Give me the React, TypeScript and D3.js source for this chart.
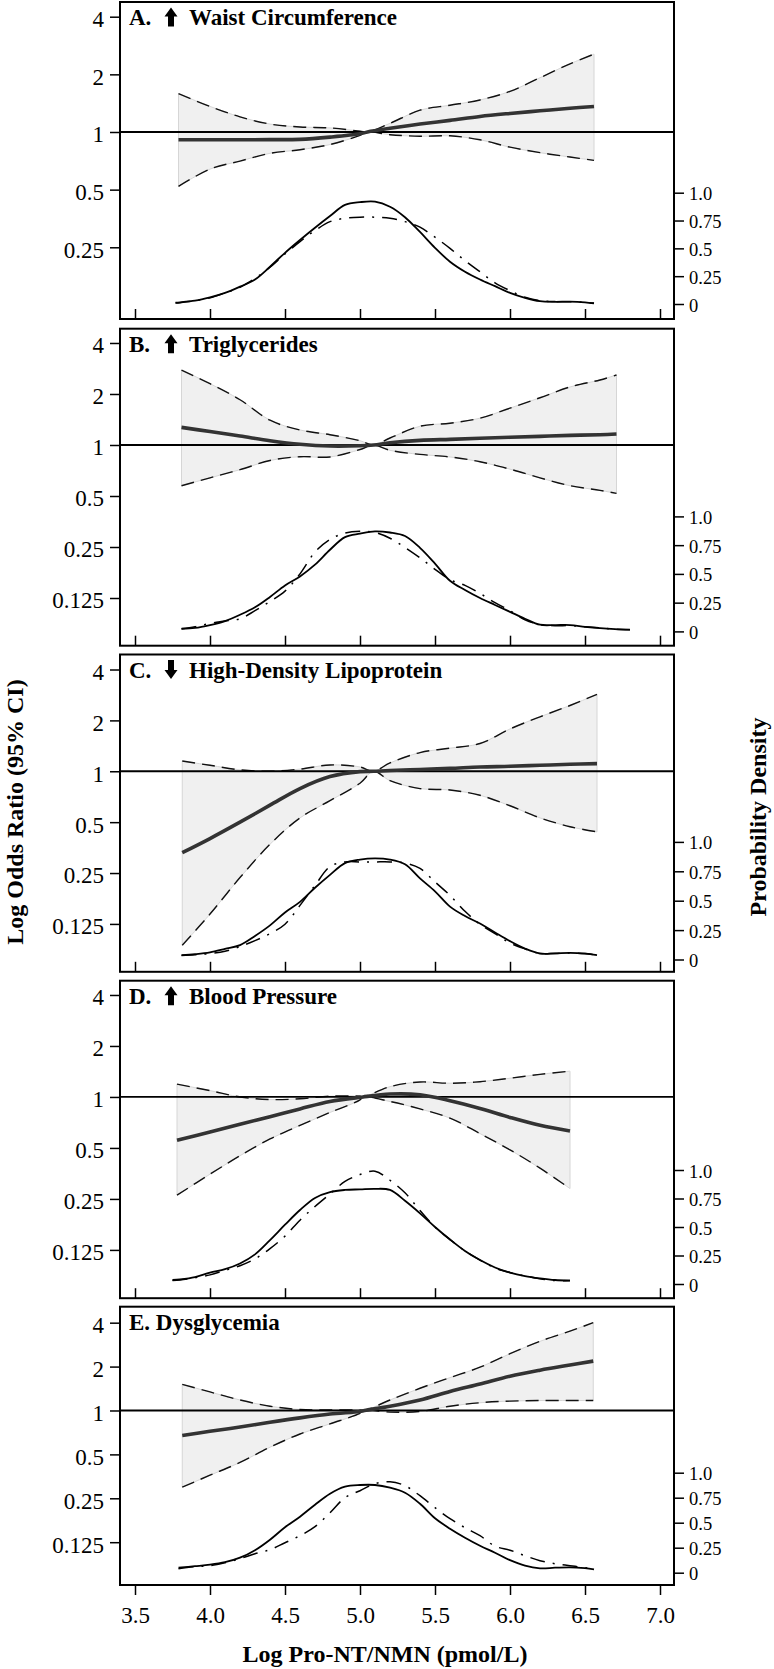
import { useEffect, useRef } from "react"
import * as d3 from "d3"

// ---- shared axes ----
const xTicks = [3.5, 4.0, 4.5, 5.0, 5.5, 6.0, 6.5, 7.0]
const orTicks = [4, 2, 1, 0.5, 0.25, 0.125]
const orTicksA = [4, 2, 1, 0.5, 0.25]
const densTicks = [0, 0.25, 0.5, 0.75, 1.0]
const densTickLabels = ["0", "0.25", "0.5", "0.75", "1.0"]

// ---- A. Waist circumference ----
const waistX = [3.79, 4.0, 4.2, 4.4, 4.6, 4.8, 5.0, 5.05, 5.2, 5.4, 5.6, 5.8, 6.0, 6.2, 6.4, 6.56]
const waistOR = [0.911, 0.911, 0.911, 0.912, 0.915, 0.94, 0.978, 1.0, 1.045, 1.1, 1.15, 1.206, 1.25, 1.29, 1.33, 1.36]
const waistLo = [0.52, 0.64, 0.705, 0.774, 0.808, 0.86, 0.96, 1.0, 0.968, 0.95, 0.955, 0.911, 0.833, 0.78, 0.74, 0.711]
const waistHi = [1.585, 1.36, 1.2, 1.1, 1.062, 1.05, 1.01, 1.0, 1.11, 1.3, 1.38, 1.47, 1.63, 1.92, 2.27, 2.55]
const waistDensX = [3.77, 3.8, 3.9, 4.0, 4.1, 4.2, 4.3, 4.4, 4.5, 4.6, 4.7, 4.8, 4.9, 5.0, 5.1, 5.2, 5.3, 5.4, 5.5, 5.6, 5.7, 5.8, 5.9, 6.0, 6.1, 6.2, 6.3, 6.4, 6.5, 6.56]
const waistDensSolid = [0.012, 0.015, 0.03, 0.06, 0.1, 0.156, 0.22, 0.335, 0.46, 0.575, 0.685, 0.79, 0.89, 0.915, 0.92, 0.874, 0.78, 0.647, 0.505, 0.38, 0.29, 0.22, 0.16, 0.1, 0.055, 0.025, 0.02, 0.022, 0.015, 0.006]
const waistDensDash = [0.01, 0.012, 0.03, 0.055, 0.1, 0.15, 0.23, 0.33, 0.45, 0.56, 0.66, 0.74, 0.77, 0.78, 0.78, 0.77, 0.74, 0.69, 0.6, 0.5, 0.39, 0.29, 0.19, 0.12, 0.06, 0.03, 0.02, 0.02, 0.015, 0.008]

// ---- B. Triglycerides ----
const trigX = [3.81, 4.0, 4.2, 4.4, 4.6, 4.8, 5.0, 5.09, 5.2, 5.4, 5.6, 5.8, 6.0, 6.2, 6.4, 6.6, 6.71]
const trigOR = [1.27, 1.2, 1.13, 1.06, 1.01, 0.986, 0.99, 1.0, 1.03, 1.065, 1.08, 1.095, 1.11, 1.125, 1.14, 1.15, 1.16]
const trigLo = [0.575, 0.64, 0.715, 0.81, 0.853, 0.85, 0.94, 1.0, 0.93, 0.88, 0.85, 0.797, 0.72, 0.64, 0.575, 0.54, 0.518]
const trigHi = [2.77, 2.3, 1.85, 1.4, 1.226, 1.15, 1.06, 1.0, 1.1, 1.29, 1.345, 1.44, 1.65, 1.9, 2.2, 2.42, 2.59]
const trigDensX = [3.81, 3.9, 4.0, 4.1, 4.2, 4.3, 4.4, 4.5, 4.6, 4.7, 4.8, 4.9, 5.0, 5.1, 5.2, 5.3, 5.4, 5.5, 5.6, 5.7, 5.8, 5.9, 6.0, 6.1, 6.2, 6.3, 6.4, 6.5, 6.6, 6.7, 6.8]
const trigDensSolid = [0.023, 0.03, 0.055, 0.09, 0.145, 0.21, 0.3, 0.4, 0.478, 0.58, 0.71, 0.82, 0.85, 0.87, 0.86, 0.83, 0.727, 0.59, 0.44, 0.36, 0.29, 0.23, 0.17, 0.11, 0.058, 0.055, 0.055, 0.04, 0.028, 0.02, 0.015]
const trigDensDash = [0.023, 0.04, 0.07, 0.09, 0.11, 0.18, 0.26, 0.35, 0.5, 0.69, 0.8, 0.855, 0.87, 0.86, 0.81, 0.73, 0.64, 0.54, 0.45, 0.4, 0.33, 0.25, 0.18, 0.1, 0.06, 0.05, 0.05, 0.04, 0.03, 0.02, 0.015]

// ---- C. High-density lipoprotein ----
const hdlX = [3.815, 4.0, 4.2, 4.4, 4.6, 4.8, 5.0, 5.09, 5.2, 5.4, 5.6, 5.8, 6.0, 6.2, 6.4, 6.58]
const hdlOR = [0.33, 0.4, 0.5, 0.63, 0.79, 0.93, 0.995, 1.0, 1.01, 1.025, 1.04, 1.06, 1.07, 1.085, 1.1, 1.11]
const hdlLo = [0.0935, 0.143, 0.235, 0.37, 0.53, 0.67, 0.85, 1.0, 0.88, 0.79, 0.775, 0.721, 0.625, 0.53, 0.47, 0.438]
const hdlHi = [1.15, 1.085, 1.02, 1.0, 1.03, 1.09, 1.06, 1.0, 1.12, 1.29, 1.37, 1.46, 1.78, 2.1, 2.45, 2.85]
const hdlDensX = [3.81, 3.9, 4.0, 4.1, 4.2, 4.3, 4.4, 4.5, 4.6, 4.7, 4.8, 4.9, 5.0, 5.1, 5.2, 5.3, 5.4, 5.5, 5.6, 5.7, 5.8, 5.9, 6.0, 6.1, 6.2, 6.3, 6.4, 6.5, 6.58]
const hdlDensSolid = [0.037, 0.045, 0.06, 0.09, 0.122, 0.2, 0.29, 0.4, 0.49, 0.61, 0.72, 0.82, 0.85, 0.86, 0.85, 0.81, 0.69, 0.58, 0.45, 0.37, 0.306, 0.23, 0.156, 0.093, 0.051, 0.052, 0.056, 0.05, 0.037]
const hdlDensDash = [0.035, 0.04, 0.05, 0.07, 0.11, 0.16, 0.22, 0.3, 0.46, 0.63, 0.79, 0.83, 0.83, 0.83, 0.83, 0.82, 0.774, 0.66, 0.545, 0.41, 0.3, 0.22, 0.14, 0.09, 0.051, 0.052, 0.056, 0.05, 0.037]

// ---- D. Blood pressure ----
const bpX = [3.78, 4.0, 4.2, 4.4, 4.6, 4.8, 5.0, 5.02, 5.2, 5.4, 5.6, 5.8, 6.0, 6.2, 6.4]
const bpOR = [0.555, 0.62, 0.69, 0.765, 0.85, 0.94, 0.995, 1.0, 1.04, 1.03, 0.95, 0.855, 0.757, 0.68, 0.63]
const bpLo = [0.263, 0.35, 0.45, 0.565, 0.68, 0.81, 0.96, 1.0, 0.94, 0.85, 0.75, 0.608, 0.487, 0.38, 0.288]
const bpHi = [1.19, 1.09, 1.0, 0.965, 0.975, 1.01, 1.01, 1.0, 1.15, 1.225, 1.205, 1.23, 1.29, 1.36, 1.42]
const bpDensX = [3.75, 3.8, 3.9, 4.0, 4.1, 4.2, 4.3, 4.4, 4.5, 4.6, 4.7, 4.8, 4.9, 5.0, 5.1, 5.2, 5.3, 5.4, 5.5, 5.6, 5.7, 5.8, 5.9, 6.0, 6.1, 6.2, 6.3, 6.4]
const bpDensSolid = [0.035, 0.04, 0.06, 0.1, 0.13, 0.18, 0.26, 0.385, 0.52, 0.649, 0.755, 0.806, 0.825, 0.83, 0.835, 0.825, 0.73, 0.62, 0.5, 0.39, 0.29, 0.21, 0.145, 0.1, 0.07, 0.05, 0.035, 0.029]
const bpDensDash = [0.03, 0.035, 0.055, 0.08, 0.12, 0.16, 0.22, 0.31, 0.42, 0.56, 0.68, 0.79, 0.9, 0.96, 0.99, 0.91, 0.8, 0.645, 0.5, 0.39, 0.29, 0.21, 0.14, 0.1, 0.07, 0.045, 0.03, 0.03]

// ---- E. Dysglycemia ----
const glyX = [3.815, 4.0, 4.2, 4.4, 4.6, 4.8, 5.0, 5.03, 5.2, 5.4, 5.6, 5.8, 6.0, 6.2, 6.4, 6.555]
const glyOR = [0.674, 0.72, 0.77, 0.83, 0.89, 0.945, 0.985, 1.0, 1.07, 1.18, 1.35, 1.52, 1.72, 1.89, 2.05, 2.18]
const glyLo = [0.298, 0.36, 0.44, 0.56, 0.69, 0.81, 0.955, 1.0, 0.975, 0.985, 1.07, 1.13, 1.16, 1.17, 1.17, 1.17]
const glyHi = [1.51, 1.34, 1.18, 1.07, 1.015, 1.01, 1.005, 1.0, 1.18, 1.42, 1.68, 1.98, 2.45, 2.98, 3.5, 4.0]
const glyDensX = [3.79, 3.9, 4.0, 4.1, 4.2, 4.3, 4.4, 4.5, 4.6, 4.7, 4.8, 4.9, 5.0, 5.1, 5.2, 5.3, 5.4, 5.5, 5.6, 5.7, 5.8, 5.9, 6.0, 6.1, 6.2, 6.3, 6.4, 6.5, 6.56]
const glyDensSolid = [0.05, 0.065, 0.08, 0.105, 0.15, 0.225, 0.33, 0.455, 0.56, 0.68, 0.79, 0.86, 0.877, 0.877, 0.85, 0.8, 0.69, 0.545, 0.44, 0.35, 0.27, 0.2, 0.125, 0.07, 0.044, 0.05, 0.054, 0.045, 0.034]
const glyDensDash = [0.04, 0.06, 0.07, 0.1, 0.14, 0.19, 0.23, 0.3, 0.37, 0.46, 0.6, 0.75, 0.82, 0.89, 0.91, 0.87, 0.77, 0.65, 0.54, 0.45, 0.37, 0.265, 0.225, 0.17, 0.12, 0.09, 0.07, 0.05, 0.034]

const FONT = "'Liberation Serif', 'Times New Roman', Times, serif"

// panel layout (pixels) and log2 extent of the odds-ratio axis
const panels = [
  { letter: "A.", arrow: "up", name: "Waist Circumference", x: waistX, or: waistOR, lo: waistLo, hi: waistHi, dx: waistDensX, dSolid: waistDensSolid, dDash: waistDensDash, yTicks: orTicksA, top: 2, height: 317, log2: [-3.244, 2.255], dens: [302, 190.7] },
  { letter: "B.", arrow: "up", name: "Triglycerides", x: trigX, or: trigOR, lo: trigLo, hi: trigHi, dx: trigDensX, dSolid: trigDensSolid, dDash: trigDensDash, yTicks: orTicks, top: 328.7, height: 317, log2: [-3.935, 2.28], dens: [302.7, 187.7] },
  { letter: "C.", arrow: "down", name: "High-Density Lipoprotein", x: hdlX, or: hdlOR, lo: hdlLo, hi: hdlHi, dx: hdlDensX, dSolid: hdlDensSolid, dDash: hdlDensDash, yTicks: orTicks, top: 654.5, height: 317.3, log2: [-3.941, 2.295], dens: [305, 187.4] },
  { letter: "D.", arrow: "up", name: "Blood Pressure", x: bpX, or: bpOR, lo: bpLo, hi: bpHi, dx: bpDensX, dSolid: bpDensSolid, dDash: bpDensDash, yTicks: orTicks, top: 980.7, height: 317.5, log2: [-3.947, 2.28], dens: [303.3, 189.3] },
  { letter: "E.", arrow: null, name: "Dysglycemia", x: glyX, or: glyOR, lo: glyLo, hi: glyHi, dx: glyDensX, dSolid: glyDensSolid, dDash: glyDensDash, yTicks: orTicks, top: 1306.7, height: 278.3, log2: [-3.975, 2.364], dens: [266, 166] },
]

export default function App() {
  const svgRef = useRef<SVGSVGElement>(null)

  useEffect(() => {
    const svg = d3.select(svgRef.current)
    svg.selectAll("*").remove()

    const W = 774
    const H = 1669
    const left = 120
    const right = 674
    const smooth = d3.curveCatmullRom.alpha(0.5)

    svg.attr("width", W).attr("height", H).style("font-family", FONT)
    svg.append("rect").attr("width", W).attr("height", H).attr("fill", "#ffffff")

    const xScale = d3.scaleLinear().domain([3.4, 3.4 + (right - left) / 150]).range([left, right])

    panels.forEach((p, pi) => {
      const bottom = p.top + p.height
      const yScale = d3.scaleLog().base(2)
        .domain([Math.pow(2, p.log2[0]), Math.pow(2, p.log2[1])])
        .range([bottom, p.top])
      const dScale = d3.scaleLinear().domain([0, 1]).range([p.top + p.dens[0], p.top + p.dens[1]])

      const g = svg.append("g")

      // CI band
      const idx = d3.range(p.x.length)
      const band = d3.area<number>()
        .x(i => xScale(p.x[i]))
        .y0(i => yScale(p.lo[i]))
        .y1(i => yScale(p.hi[i]))
        .curve(smooth)
      g.append("path")
        .attr("d", band(idx))
        .attr("fill", "#f0f0f0")
        .attr("stroke", "#d6d6d6")
        .attr("stroke-width", 1)

      const orLine = (vals: number[]) => d3.line<number>()
        .x(i => xScale(p.x[i]))
        .y(i => yScale(vals[i]))
        .curve(smooth)(idx)

      // dashed CI limits
      ;[p.lo, p.hi].forEach(v => {
        g.append("path")
          .attr("d", orLine(v))
          .attr("fill", "none")
          .attr("stroke", "#111")
          .attr("stroke-width", 1.4)
          .attr("stroke-dasharray", "13 7")
      })

      // reference line at OR = 1
      g.append("line")
        .attr("x1", left).attr("x2", right)
        .attr("y1", yScale(1)).attr("y2", yScale(1))
        .attr("stroke", "#000")
        .attr("stroke-width", 1.8)

      // odds ratio curve
      g.append("path")
        .attr("d", orLine(p.or))
        .attr("fill", "none")
        .attr("stroke", "#333")
        .attr("stroke-width", 3.6)

      // density curves
      const didx = d3.range(p.dx.length)
      const densLine = (vals: number[]) => d3.line<number>()
        .x(i => xScale(p.dx[i]))
        .y(i => dScale(vals[i]))
        .curve(smooth)(didx)

      g.append("path")
        .attr("d", densLine(p.dDash))
        .attr("fill", "none")
        .attr("stroke", "#000")
        .attr("stroke-width", 1.5)
        .attr("stroke-dasharray", "15 8 2 8")
      g.append("path")
        .attr("d", densLine(p.dSolid))
        .attr("fill", "none")
        .attr("stroke", "#000")
        .attr("stroke-width", 1.8)

      // frame
      g.append("rect")
        .attr("x", left).attr("y", p.top)
        .attr("width", right - left).attr("height", p.height)
        .attr("fill", "none")
        .attr("stroke", "#000")
        .attr("stroke-width", 2)

      // left axis
      const yAxis = g.append("g")
        .attr("transform", `translate(${left},0)`)
        .call(d3.axisLeft(yScale).tickValues(p.yTicks).tickSize(10).tickPadding(6).tickFormat(d => String(d)))
      yAxis.attr("font-family", FONT)
      yAxis.select(".domain").remove()
      yAxis.selectAll("line").attr("stroke", "#000").attr("stroke-width", 1.5)
      yAxis.selectAll("text")
        .attr("font-family", FONT)
        .attr("font-size", 23)
        .attr("fill", "#000")
        .attr("dy", "0.43em")

      // right (density) axis
      const rAxis = g.append("g")
        .attr("transform", `translate(${right},0)`)
        .call(d3.axisRight(dScale).tickValues(densTicks).tickSize(10).tickPadding(5).tickFormat((d, i) => densTickLabels[i]))
      rAxis.attr("font-family", FONT)
      rAxis.select(".domain").remove()
      rAxis.selectAll("line").attr("stroke", "#000").attr("stroke-width", 1.5)
      rAxis.selectAll("text")
        .attr("font-family", FONT)
        .attr("font-size", 18.5)
        .attr("fill", "#000")
        .attr("dy", "0.38em")

      // bottom axis
      const last = pi === panels.length - 1
      const xAxis = g.append("g")
        .attr("transform", `translate(0,${bottom})`)
        .call(d3.axisBottom(xScale).tickValues(xTicks).tickSize(last ? 10 : -10)
          .tickFormat(d => (last ? d3.format(".1f")(d as number) : "")))
      xAxis.attr("font-family", FONT)
      xAxis.select(".domain").remove()
      xAxis.selectAll("line").attr("stroke", "#000").attr("stroke-width", 1.5)
      if (last) {
        xAxis.selectAll("text")
          .attr("font-family", FONT)
          .attr("font-size", 23)
          .attr("fill", "#000")
          .attr("y", 38)
          .attr("dy", 0)
      }

      // panel title
      const ty = p.top + 23
      if (p.arrow) {
        g.append("text")
          .attr("x", 129).attr("y", ty)
          .attr("font-size", 23).attr("font-weight", "bold")
          .text(p.letter)
        const cx = 171
        const t = p.top + 5.5
        const pts = p.arrow === "up"
          ? [[cx, t], [cx + 6.5, t + 9], [cx + 3, t + 9], [cx + 3, t + 19], [cx - 3, t + 19], [cx - 3, t + 9], [cx - 6.5, t + 9]]
          : [[cx, t + 19], [cx + 6.5, t + 10], [cx + 3, t + 10], [cx + 3, t], [cx - 3, t], [cx - 3, t + 10], [cx - 6.5, t + 10]]
        g.append("path")
          .attr("d", "M" + pts.map(q => q.join(",")).join("L") + "Z")
          .attr("fill", "#000")
        g.append("text")
          .attr("x", 189).attr("y", ty)
          .attr("font-size", 23).attr("font-weight", "bold")
          .text(p.name)
      } else {
        g.append("text")
          .attr("x", 129).attr("y", ty)
          .attr("font-size", 23).attr("font-weight", "bold")
          .text(`${p.letter} ${p.name}`)
      }
    })

    // axis titles
    svg.append("text")
      .attr("transform", "translate(23,812) rotate(-90)")
      .attr("text-anchor", "middle")
      .attr("font-size", 24)
      .attr("font-weight", "bold")
      .text("Log Odds Ratio (95% CI)")

    svg.append("text")
      .attr("transform", "translate(766,817) rotate(-90)")
      .attr("text-anchor", "middle")
      .attr("font-size", 24)
      .attr("font-weight", "bold")
      .text("Probability Density")

    svg.append("text")
      .attr("x", 385).attr("y", 1662)
      .attr("text-anchor", "middle")
      .attr("font-size", 24)
      .attr("font-weight", "bold")
      .text("Log Pro-NT/NMN (pmol/L)")
  }, [])

  return (
    <div style={{ position: "absolute", left: 0, top: 0 }}>
      <svg ref={svgRef} style={{ display: "block" }}></svg>
    </div>
  )
}
